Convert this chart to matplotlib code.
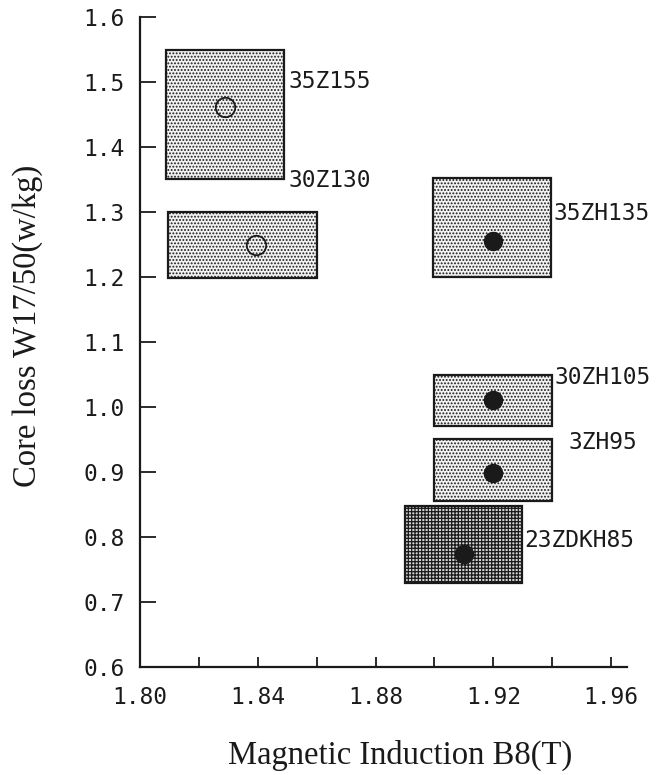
import matplotlib.pyplot as plt
import numpy as np
from matplotlib.patches import Rectangle

# grade boxes: B8 range, W17/50 range, typical value
grades = ['35Z155', '30Z130', '35ZH135', '30ZH105', '3ZH95', '23ZDKH85']
b8_low = [1.809, 1.8095, 1.8995, 1.90, 1.90, 1.89]
b8_high = [1.849, 1.86, 1.9395, 1.94, 1.94, 1.9297]
w_low = [1.351, 1.198, 1.20, 0.971, 0.855, 0.729]
w_high = [1.549, 1.30, 1.352, 1.049, 0.951, 0.848]
b8_typ = [1.829, 1.8394, 1.92, 1.92, 1.92, 1.91]
w_typ = [1.4615, 1.249, 1.255, 1.011, 0.898, 0.774]
hibs = [False, False, True, True, True, True]

# where each grade name is written
label_x = [1.8503, 1.8503, 1.9405, 1.9408, 1.9455, 1.9305]
label_y = [1.50, 1.349, 1.298, 1.046, 0.946, 0.795]

x_ticks = [1.80, 1.82, 1.84, 1.86, 1.88, 1.90, 1.92, 1.94, 1.96]
y_ticks = [0.6, 0.7, 0.8, 0.9, 1.0, 1.1, 1.2, 1.3, 1.4, 1.5, 1.6]

ink = '#1a1a1a'
mono = 'DejaVu Sans Mono'
serif = 'Liberation Serif'
plt.rcParams['hatch.color'] = '#3a3a3a'
plt.rcParams['hatch.linewidth'] = 0.9

fig = plt.figure(figsize=(6.67, 7.75), dpi=100)
ax = fig.add_axes([140/667, 1 - 667/775, (627 - 140)/667, (667 - 17)/775])

for i in range(len(grades)):
    dark = (i == len(grades) - 1)
    ax.add_patch(Rectangle((b8_low[i], w_low[i]), b8_high[i] - b8_low[i], w_high[i] - w_low[i],
                           facecolor='#d4d4d4' if dark else '#f2f2f2',
                           edgecolor=ink, linewidth=1.6,
                           hatch='+++++' if dark else '.....', zorder=2))
    if hibs[i]:
        ax.plot(b8_typ[i], w_typ[i], marker='o', markersize=13, color=ink, zorder=3)
    else:
        ax.plot(b8_typ[i], w_typ[i], marker='o', markersize=14, markerfacecolor='none',
                markeredgecolor=ink, markeredgewidth=1.3, zorder=3)
    ax.text(label_x[i], label_y[i], grades[i], family=mono, fontsize=16.5,
            ha='left', va='center', color=ink)

ax.set_xlim(1.80, 1.9654)
ax.set_ylim(0.6, 1.6)

ax.set_xticks(x_ticks)
ax.set_xticklabels(['%.2f' % v if k % 2 == 0 else '' for k, v in enumerate(x_ticks)])
ax.set_yticks(y_ticks)
ax.set_yticklabels(['%.1f' % v for v in y_ticks])
for lab in ax.get_xticklabels() + ax.get_yticklabels():
    lab.set_family(mono)
    lab.set_fontsize(16.5)
    lab.set_color(ink)

ax.tick_params(axis='x', direction='in', length=7.5, width=1.3, pad=14, colors=ink)
ax.tick_params(axis='y', direction='in', length=11.5, width=1.3, pad=11, colors=ink)

for side in ['top', 'right']:
    ax.spines[side].set_visible(False)
for side in ['left', 'bottom']:
    ax.spines[side].set_linewidth(1.6)
    ax.spines[side].set_color(ink)

ax.set_facecolor('white')
fig.text(400/667, 1 - 755/775, 'Magnetic Induction B8(T)', family=serif, fontsize=23.5,
         ha='center', va='center', color=ink)
fig.text(28/667, 1 - 326/775, 'Core loss W17/50(w/kg)', family=serif, fontsize=23.5,
         ha='center', va='center', rotation=90, color=ink)

fig.savefig('out.png', dpi=100, facecolor='white')
